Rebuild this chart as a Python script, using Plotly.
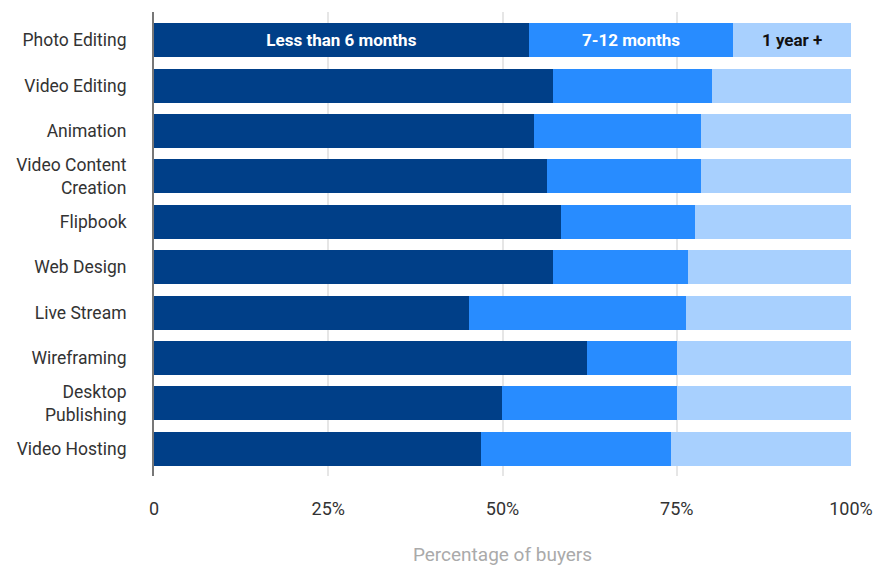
import plotly.graph_objects as go

# categories, top to bottom
tools = ["Photo Editing", "Video Editing", "Animation", "Video Content<br>Creation",
         "Flipbook", "Web Design", "Live Stream", "Wireframing",
         "Desktop<br>Publishing", "Video Hosting"]

# share of buyers (%) per duration bucket
less_6m = [53.8, 57.2, 54.5, 56.4, 58.4, 57.2, 45.2, 62.1, 49.9, 46.9]
m7_12 = [29.3, 22.9, 24.0, 22.1, 19.2, 19.4, 31.1, 12.9, 25.1, 27.3]
year_plus = [16.9, 19.9, 21.5, 21.5, 22.4, 23.4, 23.7, 25.0, 25.0, 25.8]

series = [
    ("Less than 6 months", less_6m, "#003f88", "white"),
    ("7-12 months", m7_12, "#288cff", "white"),
    ("1 year +", year_plus, "#a8d0fe", "#111111"),
]

x_ticks = [0, 25, 50, 75, 100]
x_tick_text = ["0", "25%", "50%", "75%", "100%"]

fig = go.Figure()
for name, vals, col, txtcol in series:
    # only the first bar carries the series label
    labels = [name] + [""] * (len(vals) - 1)
    fig.add_trace(go.Bar(
        y=tools, x=vals, orientation="h", name=name,
        marker=dict(color=col, line=dict(width=0)),
        text=labels, textposition="inside", insidetextanchor="middle",
        constraintext="none", textangle=0,
        textfont=dict(family="Roboto", size=17, color=txtcol, weight="bold"),
        hoverinfo="x+y",
    ))

fig.update_layout(
    barmode="stack", bargap=0.25,
    width=876, height=567,
    margin=dict(l=154, r=25, t=12, b=91),
    plot_bgcolor="white", paper_bgcolor="white",
    showlegend=False,
    font=dict(family="Roboto", color="#333333"),
)
fig.update_xaxes(
    range=[0, 100], tickvals=x_ticks, ticktext=x_tick_text,
    showgrid=True, gridcolor="#e6e6e6", gridwidth=2, zeroline=False,
    tickfont=dict(size=18, color="#333333"), ticklabelstandoff=20,
    title=dict(text="Percentage of buyers", font=dict(size=19, color="#aaaaaa"), standoff=29),
    automargin=False,
)
fig.update_yaxes(
    range=[9.6, -0.62], showline=True, linecolor="#777777", linewidth=2,
    tickfont=dict(size=17.5, color="#333333"), ticklabelstandoff=22,
    automargin=False,
)

# drop the default page margin so the figure sits at the window's corner
fig.write_html("out.html", config={"displayModeBar": False},
               post_script="document.body.style.margin='0';")
